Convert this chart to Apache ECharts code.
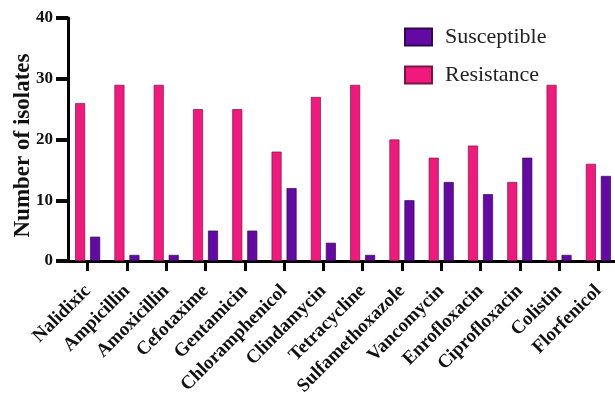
<!DOCTYPE html>
<html><head><meta charset="utf-8">
<script src="https://cdn.jsdelivr.net/npm/echarts@6/dist/echarts.min.js"></script>
<style>html,body{margin:0;padding:0;background:#fff}#c{width:615px;height:394px}</style>
</head><body><div id="c"></div>
<script>
const categories = ['Nalidixic','Ampicillin','Amoxicillin','Cefotaxime','Gentamicin','Chloramphenicol','Clindamycin','Tetracycline','Sulfamethoxazole','Vancomycin','Enrofloxacin','Ciprofloxacin','Colistin','Florfenicol'];
const resistance = [26,29,29,25,25,18,27,29,20,17,19,13,29,16];
const susceptible = [4,1,1,5,5,12,3,1,10,13,11,17,1,14];
const yTicks = [0,10,20,30,40];

const FONT = '"Liberation Serif", "Times New Roman", serif';
const chart = echarts.init(document.getElementById('c'), null, {renderer:'canvas'});
chart.setOption({
  animation:false,
  backgroundColor:'#fff',
  grid:{left:68, top:18, width:550, height:243, containLabel:false, outerBoundsMode:'none'},
  legend:{
    data:['Susceptible','Resistance'],
    orient:'vertical', left:399, top:21,
    itemWidth:27, itemHeight:17, itemGap:16,
    icon:'rect',
    textStyle:{fontFamily:FONT, fontSize:22, color:'#222', padding:[0,0,0,8]}
  },
  xAxis:{
    type:'category', data:categories,
    axisLine:{lineStyle:{color:'#000', width:3}},
    axisTick:{show:true, alignWithLabel:true, length:10, lineStyle:{color:'#000', width:3}},
    axisLabel:{rotate:45, interval:0, margin:27, fontFamily:FONT, fontWeight:'bold', fontSize:19, color:'#111'}
  },
  yAxis:{
    type:'value', min:yTicks[0], max:yTicks[yTicks.length-1], interval:10,
    name:'Number of isolates', nameLocation:'middle', nameGap:33, nameMoveOverlap:false,
    nameTextStyle:{fontFamily:FONT, fontWeight:'bold', fontSize:23, color:'#111', padding:[0,12,0,0]},
    splitLine:{show:false},
    axisLine:{show:true, lineStyle:{color:'#000', width:3}},
    axisTick:{show:true, length:12, lineStyle:{color:'#0a0a0a', width:4}},
    axisLabel:{show:true, margin:15, fontFamily:FONT, fontWeight:'bold', fontSize:17, color:'#111'}
  },
  series:[
    {name:'Resistance', type:'bar', data:resistance, barWidth:10, barGap:'50%',
     itemStyle:{color:'#F2197E', borderColor:'#7a1540', borderWidth:0.7}},
    {name:'Susceptible', type:'bar', data:susceptible, barWidth:10, barGap:'50%',
     itemStyle:{color:'#6409A4', borderColor:'#30084f', borderWidth:0.7}}
  ]
});
</script></body></html>
